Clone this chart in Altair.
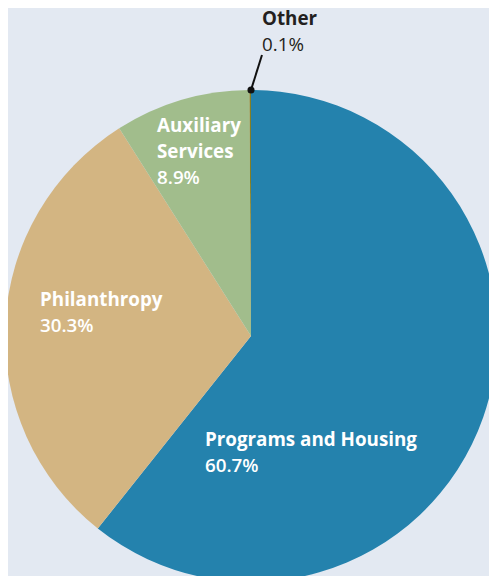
import altair as alt
import pandas as pd

categories = ["Programs and Housing", "Philanthropy", "Auxiliary Services", "Other"]
shares = [60.7, 30.3, 8.9, 0.1]
name_lines = ["Programs and Housing", "Philanthropy", "Auxiliary\nServices", "Other"]
colors = ["#2482ad", "#d3b582", "#a1bd8c", "#857f23"]

df = pd.DataFrame({
    "category": categories,
    "share": shares,
    "order": list(range(len(categories))),
    "name": name_lines,
    "pct": [f"{v}%" for v in shares],
})

CX, CY, R = 243, 328, 246
FONT = "Open Sans"
FS = 18.8

base = alt.Chart(df)

pie = base.mark_arc(radius=R, stroke=None).encode(
    theta=alt.Theta("share:Q", stack=True),
    order=alt.Order("order:Q"),
    color=alt.Color("category:N", scale=alt.Scale(domain=categories, range=colors), legend=None),
    x=alt.value(CX),
    y=alt.value(CY),
)

# label anchors (annotation placement)
anchors = {
    "Programs and Housing": (197, 438, 1, "white"),
    "Philanthropy": (32, 298, 1, "white"),
    "Auxiliary Services": (149, 124, 2, "white"),
    "Other": (254, 17, 1, "#231f20"),
}
LH = 26

layers = [pie]
for cat, (lx, ly, nlines, col) in anchors.items():
    sub = base.transform_filter(alt.datum.category == cat)
    layers.append(
        sub.mark_text(
            align="left", baseline="alphabetic", font=FONT, fontSize=FS,
            fontWeight="bold", color=col, lineBreak="\n", lineHeight=LH,
        ).encode(text="name:N", x=alt.value(lx), y=alt.value(ly))
    )
    layers.append(
        sub.mark_text(
            align="left", baseline="alphabetic", font=FONT, fontSize=FS,
            fontWeight=600 if col == "white" else "normal", color=col,
        ).encode(text="pct:N", x=alt.value(lx), y=alt.value(ly + LH * nlines))
    )

leader = base.transform_filter(alt.datum.category == "Other").mark_rule(
    color="#111111", strokeWidth=2
).encode(x=alt.value(254), y=alt.value(47), x2=alt.value(CX), y2=alt.value(82))

dot = base.transform_filter(alt.datum.category == "Other").mark_point(
    filled=True, color="#111111", size=50, shape="circle", opacity=1
).encode(x=alt.value(CX), y=alt.value(82))

layers += [leader, dot]

chart = alt.layer(*layers).properties(
    width=481, height=568,
    autosize=alt.AutoSizeParams(type="none"),
    padding=0,
).configure(background="#e3e9f2").configure_view(stroke=None)

chart.save("out.html", embed_options={"renderer": "svg", "actions": False})
